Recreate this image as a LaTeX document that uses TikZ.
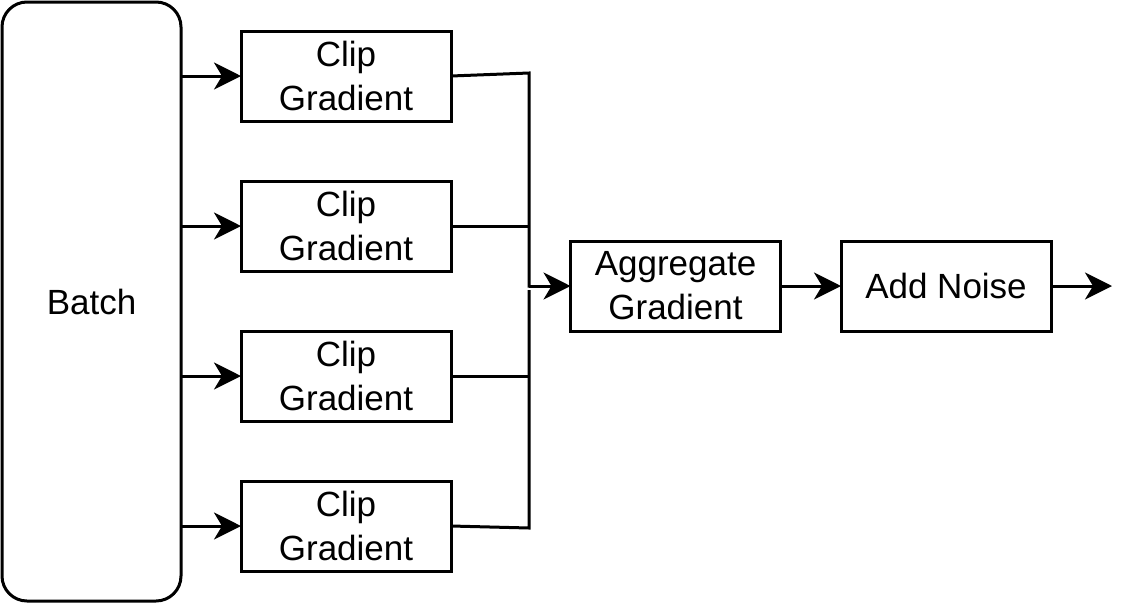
\documentclass[tikz,border=0pt]{standalone}
\usepackage{fontspec}
\setmainfont{Liberation Sans}
\usetikzlibrary{arrows.meta}
\begin{document}
\begin{tikzpicture}[x=1pt,y=-1pt,
  every node/.style={font=\fontsize{35}{44}\selectfont, align=center, inner sep=0pt, outer sep=0pt},
  box/.style={draw, line width=3pt, minimum width=210pt, minimum height=90pt},
  batchbox/.style={draw, line width=3pt, rounded corners=25pt, minimum width=179pt, minimum height=599pt},
  conn/.style={line width=3pt},
  arr/.style={line width=3pt, -{Stealth[length=27pt, width=27pt, inset=8pt]}}]
\useasboundingbox (0,0) rectangle (1137,603);
\node[batchbox] (batch) at (91.5,301.5) {Batch};
\node[box] (c1) at (346,76) {Clip\\Gradient};
\node[box] (c2) at (346,226) {Clip\\Gradient};
\node[box] (c3) at (346,376) {Clip\\Gradient};
\node[box] (c4) at (346,526) {Clip\\Gradient};
\node[box] (agg) at (675.5,286) {Aggregate\\Gradient};
\node[box] (noise) at (946,286) {Add Noise};
\coordinate (j1) at (529,73);
\coordinate (j2) at (529,226);
\coordinate (j3) at (529,376);
\coordinate (j4) at (529,528);
\coordinate (jm) at (529,287.5);
\coordinate (jb) at (529,290);
\coordinate (out) at (1112,286);
\foreach \c in {c1,c2,c3,c4} {
  \draw[arr] (batch.east |- \c.west) -- (\c.west);
}
\draw[conn] (c1.east) -- (j1) -- (jm);
\draw[conn] (c4.east) -- (j4) -- (jb);
\draw[conn] (c2.east) -- (j2);
\draw[conn] (c3.east) -- (j3);
\draw[arr] (jm |- agg.west) -- (agg.west);
\draw[arr] (agg.east) -- (noise.west);
\draw[arr] (noise.east) -- (out);
\end{tikzpicture}
\end{document}
